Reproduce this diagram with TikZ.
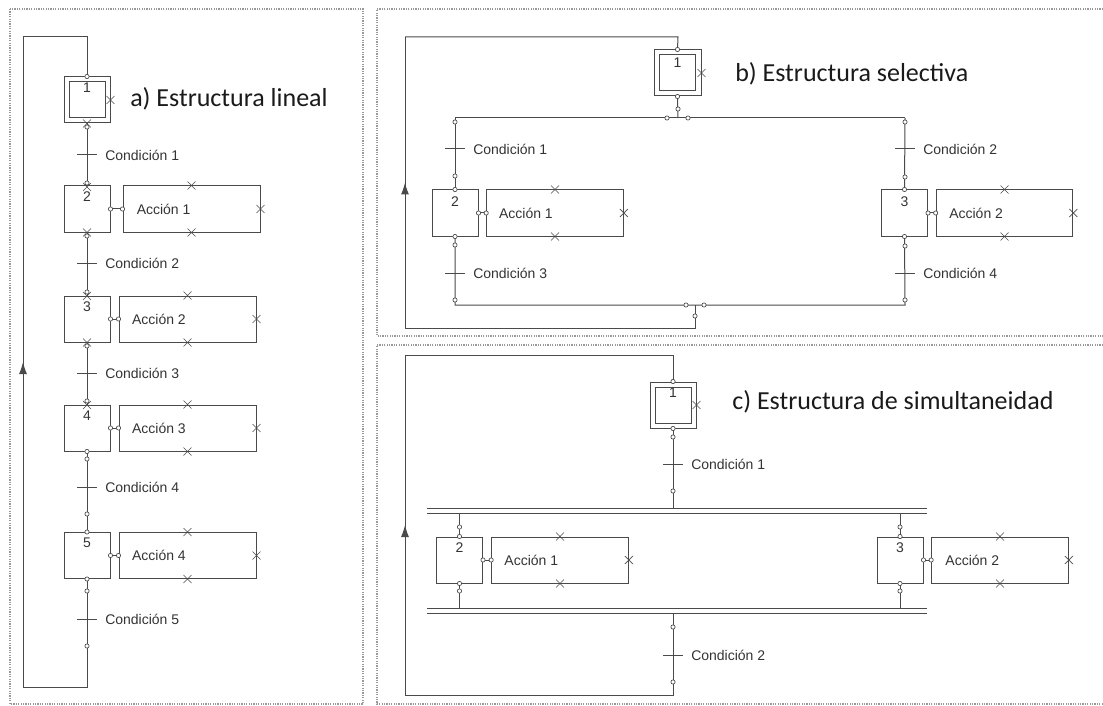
\documentclass[tikz,border=0pt]{standalone}
\usepackage{fontspec}
\usetikzlibrary{arrows.meta,decorations.markings,shapes.misc}
\newfontfamily\labfont{Liberation Sans}
\newfontfamily\ttlfont{Carlito}
\definecolor{lc}{HTML}{4A4A4A}
\definecolor{tc}{HTML}{333333}
\definecolor{ttc}{HTML}{1A1A1A}
\newcommand\dotat[2]{\node[dotc] (#1) at (#2) {};}
\newcommand\xat[2]{\node[xmark] (#1) at (#2) {};}
\tikzset{
  ln/.style={draw=lc, line width=0.75pt},
  stepbox/.style={draw=lc, line width=0.75pt, minimum width=34.5pt, minimum height=34.5pt, inner sep=0pt},
  innerbox/.style={draw=lc, line width=0.75pt, minimum width=27pt, minimum height=27pt, inner sep=0pt},
  actbox/.style={draw=lc, line width=0.75pt, minimum width=102.5pt, minimum height=34.5pt, inner sep=0pt},
  lab/.style={font=\labfont\fontsize{10.5pt}{12pt}\selectfont, text=tc, inner sep=0pt},
  cond/.style={lab, anchor=west},
  stepnum/.style={lab, anchor=north},
  dotc/.style={circle, draw=lc, fill=white, line width=0.5pt, minimum size=3.2pt, inner sep=0pt},
  xmark/.style={cross out, draw=lc, line width=0.5pt, minimum size=5.5pt, inner sep=0pt},
  ttl/.style={font=\ttlfont\fontsize{19.5pt}{23pt}\selectfont, text=ttc, anchor=west, inner sep=0pt},
  panel/.style={draw=gray!80, line width=0.9pt, dash pattern=on 0.9pt off 0.9pt},
  midarrow/.style={postaction={decorate}, decoration={markings, mark=at position 0.5 with {\arrow{Latex[length=9pt,width=6pt]}}}},
}
\begin{document}
\begin{tikzpicture}[x=0.75pt,y=-0.75pt]
\useasboundingbox (0,0) rectangle (1103,706);
% panel borders
\draw[panel] (10,9) rectangle (363,704);
\draw[panel] (1103,9) -- (377,9) -- (377,336) -- (1103,336);
\draw[panel] (1103,345) -- (377,345) -- (377,704) -- (1103,704);

% ================= panel a =================
\node[stepbox] (a1) at (87,100) {};
\node[innerbox] (a1i) at (87,100) {};
\node[stepnum] (a1n) at ([yshift=-0.75pt]a1i.north) {1};
\node[stepbox] (a2) at (87,209) {};
\node[stepnum] (a2n) at ([yshift=-4.5pt]a2.north) {2};
\node[stepbox] (a3) at (87,319) {};
\node[stepnum] (a3n) at ([yshift=-4.5pt]a3.north) {3};
\node[stepbox] (a4) at (87,428) {};
\node[stepnum] (a4n) at ([yshift=-4.5pt]a4.north) {4};
\node[stepbox] (a5) at (87,555.5) {};
\node[stepnum] (a5n) at ([yshift=-4.5pt]a5.north) {5};
\node[actbox, minimum width=102.75pt] (A1) at (191.5,209) {};
\node[actbox, minimum width=102.75pt] (A2) at (187.5,319) {};
\node[actbox, minimum width=102.75pt] (A3) at (187.5,428) {};
\node[actbox, minimum width=102.75pt] (A4) at (187.5,555.5) {};
\node[lab, anchor=west] (A1t) at ([xshift=10.5pt]A1.west) {Acción 1};
\node[lab, anchor=west] (A2t) at ([xshift=10pt]A2.west) {Acción 2};
\node[lab, anchor=west] (A3t) at ([xshift=10pt]A3.west) {Acción 3};
\node[lab, anchor=west] (A4t) at ([xshift=10pt]A4.west) {Acción 4};
\node[ttl] (ta) at (130,99) {a) Estructura lineal};

\coordinate (ac1) at (87,155);
\coordinate (ac2) at (87,263);
\coordinate (ac3) at (87,373);
\coordinate (ac4) at (87,487);
\coordinate (ac5) at (87,619);
\coordinate (aL1) at (87,687);
\coordinate (aL2) at (23,687);
\coordinate (aL3) at (23,37);
\coordinate (aL4) at (87,37);
\draw[ln] (a1.south) -- (a2.north);
\draw[ln] (a2.south) -- (a3.north);
\draw[ln] (a3.south) -- (a4.north);
\draw[ln] (a4.south) -- (a5.north);
\draw[ln] (a5.south) -- (aL1) -- (aL2);
\draw[ln, midarrow] (aL2) -- (aL3);
\draw[ln] (aL3) -- (aL4) -- (a1.north);
\foreach \c/\t in {ac1/1, ac2/2, ac3/3, ac4/4, ac5/5}{
  \draw[ln] ([xshift=-7.5pt]\c) -- ([xshift=7.5pt]\c);
  \node[cond] (\c t) at ([xshift=13.5pt]\c) {Condición \t};
}
\foreach \s/\a in {a2/A1, a3/A2, a4/A3, a5/A4}{
  \draw[ln] (\s.east) -- (\a.west);
  \node[dotc] (\s e) at (\s.east) {};
  \node[dotc] (\a w) at (\a.west) {};
  \node[xmark] (\a n) at (\a.north) {};
  \node[xmark] (\a s) at (\a.south) {};
  \node[xmark] (\a e) at (\a.east) {};
}
\xat{a1x}{a1.east}
\dotat{ad1}{a1.north}
\xat{ax1}{a1.south}
\dotat{ad2}{87,127}
\dotat{ad3}{87,183}
\xat{ax2}{87,187}
\xat{ax3}{a2.south}
\dotat{ad4}{87,236}
\dotat{ad5}{87,292}
\xat{ax4}{87,296}
\xat{ax5}{a3.south}
\dotat{ad6}{87,346}
\dotat{ad7}{87,401}
\xat{ax6}{87,405}
\dotat{ad8}{a4.south}
\dotat{ad9}{87,459}
\dotat{ad10}{87,514}
\dotat{ad11}{a5.north}
\dotat{ad12}{a5.south}
\dotat{ad13}{87,591}
\dotat{ad14}{87,646}

% ================= panel b =================
\node[stepbox, minimum width=35.25pt] (b1) at (677.5,73) {};
\node[innerbox] (b1i) at (677.5,73) {};
\node[stepnum] (b1n) at ([yshift=-2pt]b1i.north) {1};
\node[stepbox] (b2) at (455,213) {};
\node[stepnum] (b2n) at ([yshift=-5pt]b2.north) {2};
\node[stepbox] (b3) at (904.5,213) {};
\node[stepnum] (b3n) at ([yshift=-5pt]b3.north) {3};
\node[actbox] (B1) at (555,213) {};
\node[actbox] (B2) at (1004.5,213) {};
\node[lab, anchor=west] (B1t) at ([xshift=9.5pt]B1.west) {Acción 1};
\node[lab, anchor=west] (B2t) at ([xshift=10pt]B2.west) {Acción 2};
\node[ttl] (tb) at (735,74) {b) Estructura selectiva};

\coordinate (bJ) at (678,118);
\coordinate (bL) at (455,118);
\coordinate (bR) at (905,118);
\coordinate (bBL) at (455,305);
\coordinate (bBR) at (905,305);
\coordinate (bBJ) at (695,305);
\coordinate (bBD) at (695,328);
\coordinate (bLB) at (405,328);
\coordinate (bLT) at (405,37);
\coordinate (bTR) at (678,37);
\coordinate (bc1) at (455,149);
\coordinate (bc2) at (905,149);
\coordinate (bc3) at (455,273);
\coordinate (bc4) at (905,273);
\draw[ln] (b1.south) -- (bJ);
\draw[ln] (bL) -- (bR);
\draw[ln] (bL) -- (b2.north);
\draw[ln] (bR) -- (b3.north);
\draw[ln] (b2.south) -- (bBL) -- (bBR) -- (b3.south);
\draw[ln] (bBJ) -- (bBD) -- (bLB);
\draw[ln, midarrow] (bLB) -- (bLT);
\draw[ln] (bLT) -- (bTR) -- (b1.north);
\foreach \c/\t in {bc1/1, bc2/2, bc3/3, bc4/4}{
  \draw[ln] ([xshift=-7.5pt]\c) -- ([xshift=7.5pt]\c);
  \node[cond] (\c t) at ([xshift=13.5pt]\c) {Condición \t};
}
\foreach \s/\a in {b2/B1, b3/B2}{
  \draw[ln] (\s.east) -- (\a.west);
  \node[dotc] (\s e) at (\s.east) {};
  \node[dotc] (\a w) at (\a.west) {};
  \node[xmark] (\a n) at (\a.north) {};
  \node[xmark] (\a s) at (\a.south) {};
  \node[xmark] (\a e) at (\a.east) {};
}
\xat{b1x}{b1.east}
\dotat{bd1}{b1.north}
\dotat{bd2}{b1.south}
\dotat{bd3}{678,109}
\dotat{bd4}{667,118}
\dotat{bd5}{688,118}
\dotat{bd6}{455,122}
\dotat{bd7}{455,176}
\dotat{bd8}{b2.north}
\dotat{bd9}{b2.south}
\dotat{bd10}{455,245}
\dotat{bd11}{455,300}
\dotat{bd12}{905,122}
\dotat{bd13}{905,177}
\dotat{bd14}{b3.north}
\dotat{bd15}{b3.south}
\dotat{bd16}{905,246}
\dotat{bd17}{905,300}
\dotat{bd18}{686,305}
\dotat{bd19}{704,305}
\dotat{bd20}{695,316}

% ================= panel c =================
\node[stepbox] (c1) at (673,405) {};
\node[innerbox] (c1i) at (673,405) {};
\node[stepnum] (c1n) at ([yshift=-0.75pt]c1i.north) {1};
\node[stepbox] (c2) at (459.5,560) {};
\node[stepnum] (c2n) at ([yshift=-4.5pt]c2.north) {2};
\node[stepbox] (c3) at (900,560) {};
\node[stepnum] (c3n) at ([yshift=-4.5pt]c3.north) {3};
\node[actbox] (C1) at (560,560) {};
\node[actbox] (C2) at (1000,560) {};
\node[lab, anchor=west] (C1t) at ([xshift=9.75pt]C1.west) {Acción 1};
\node[lab, anchor=west] (C2t) at ([xshift=10.5pt]C2.west) {Acción 2};
\node[ttl] (tc) at (732,402) {c) Estructura de simultaneidad};

\coordinate (cT1a) at (427,508);
\coordinate (cT1b) at (927,508);
\coordinate (cT2a) at (427,513);
\coordinate (cT2b) at (927,513);
\coordinate (cB1a) at (427,608);
\coordinate (cB1b) at (927,608);
\coordinate (cB2a) at (427,613);
\coordinate (cB2b) at (927,613);
\coordinate (cT) at (673,508);
\coordinate (cTL) at (459.5,513);
\coordinate (cTR) at (900,513);
\coordinate (cBL) at (459.5,608);
\coordinate (cBR) at (900,608);
\coordinate (cB) at (673,613);
\coordinate (cD) at (673,695);
\coordinate (cLB) at (405,695);
\coordinate (cLT) at (405,355);
\coordinate (cTT) at (673,355);
\coordinate (cc1) at (673,464);
\coordinate (cc2) at (673,655);
\draw[ln] (cT1a) -- (cT1b);
\draw[ln] (cT2a) -- (cT2b);
\draw[ln] (cB1a) -- (cB1b);
\draw[ln] (cB2a) -- (cB2b);
\draw[ln] (c1.south) -- (cT);
\draw[ln] (cTL) -- (c2.north);
\draw[ln] (cTR) -- (c3.north);
\draw[ln] (c2.south) -- (cBL);
\draw[ln] (c3.south) -- (cBR);
\draw[ln] (cB) -- (cD) -- (cLB);
\draw[ln, midarrow] (cLB) -- (cLT);
\draw[ln] (cLT) -- (cTT) -- (c1.north);
\foreach \c/\t in {cc1/1, cc2/2}{
  \draw[ln] ([xshift=-7.5pt]\c) -- ([xshift=7.5pt]\c);
  \node[cond] (\c t) at ([xshift=13.5pt]\c) {Condición \t};
}
\foreach \s/\a in {c2/C1, c3/C2}{
  \draw[ln] (\s.east) -- (\a.west);
  \node[dotc] (\s e) at (\s.east) {};
  \node[dotc] (\a w) at (\a.west) {};
  \node[xmark] (\a n) at (\a.north) {};
  \node[xmark] (\a s) at (\a.south) {};
  \node[xmark] (\a e) at (\a.east) {};
}
\xat{c1x}{c1.east}
\dotat{cd1}{c1.north}
\dotat{cd2}{c1.south}
\dotat{cd3}{673,437}
\dotat{cd4}{673,491}
\dotat{cd5}{459.5,527}
\dotat{cd6}{c2.north}
\dotat{cd7}{c2.south}
\dotat{cd8}{459.5,591}
\dotat{cd9}{900,527}
\dotat{cd10}{c3.north}
\dotat{cd11}{c3.south}
\dotat{cd12}{900,591}
\dotat{cd13}{673,627}
\dotat{cd14}{673,682}
\end{tikzpicture}
\end{document}
